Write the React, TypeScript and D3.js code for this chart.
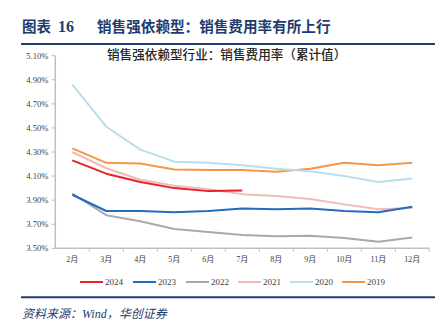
import React from "react";
import * as d3 from "d3";

const months = ["2月", "3月", "4月", "5月", "6月", "7月", "8月", "9月", "10月", "11月", "12月"];
const yTicks = [3.5, 3.7, 3.9, 4.1, 4.3, 4.5, 4.7, 4.9, 5.1];

const s2024 = [4.23, 4.12, 4.05, 4.0, 3.975, 3.98];
const s2023 = [3.945, 3.81, 3.81, 3.8, 3.81, 3.83, 3.825, 3.83, 3.81, 3.8, 3.845];
const s2022 = [3.955, 3.775, 3.725, 3.66, 3.635, 3.61, 3.6, 3.605, 3.585, 3.555, 3.59];
const s2021 = [4.3, 4.165, 4.07, 4.02, 3.99, 3.95, 3.935, 3.91, 3.865, 3.825, 3.835];
const s2020 = [4.86, 4.51, 4.32, 4.22, 4.21, 4.19, 4.16, 4.14, 4.1, 4.05, 4.08];
const s2019 = [4.33, 4.21, 4.205, 4.155, 4.15, 4.15, 4.135, 4.16, 4.21, 4.19, 4.21];

const seriesNames = ["2024", "2023", "2022", "2021", "2020", "2019"];
const seriesValues = [s2024, s2023, s2022, s2021, s2020, s2019];
const seriesColors = ["#E8212B", "#1F6CC0", "#A9A9A9", "#F2B9B9", "#B8DEE9", "#F79646"];

const NAVY = "#1F3C6E";
const AXIS = "#BFBFBF";
const SERIF = "'Liberation Serif', 'Times New Roman', 'Noto Sans CJK SC', serif";
const CJK = "'Liberation Serif', 'Noto Sans CJK SC', serif";

export default function App() {
  const x = d3.scaleBand<string>().domain(months).range([55.3, 429.3]);
  const y = d3.scaleLinear().domain([3.5, 5.1]).range([248.3, 55.7]);
  const line = d3
    .line<number>()
    .x((_, i) => (x(months[i]) as number) + x.bandwidth() / 2)
    .y((d) => y(d));

  const order = [5, 4, 3, 2, 1, 0];
  const legendX = [80, 133, 186, 238, 290, 342];

  return (
    <svg
      width={447}
      height={331}
      style={{ position: "absolute", left: 0, top: 0, background: "#fff" }}
    >
      {/* Header */}
      <text x={22} y={32} fill={NAVY} fontFamily={CJK} fontWeight={700} fontSize={14.5}>
        图表
      </text>
      <text x={58} y={32} fill={NAVY} fontFamily={SERIF} fontWeight={700} fontSize={16}>
        16
      </text>
      <text x={97} y={32} fill={NAVY} fontFamily={CJK} fontWeight={700} fontSize={14.6}>
        销售强依赖型：销售费用率有所上行
      </text>
      <line x1={21} x2={435} y1={44} y2={44} stroke={NAVY} strokeWidth={2} />

      {/* Chart title */}
      <text x={107} y={59} fill="#262626" fontFamily={CJK} fontWeight={500} fontSize={12.6}>
        销售强依赖型行业：销售费用率（累计值）
      </text>

      {/* Y axis */}
      <line x1={55.3} x2={55.3} y1={y(5.1)} y2={y(3.5)} stroke={AXIS} strokeWidth={1.5} />
      {yTicks.map((t) => (
        <g key={t}>
          <line x1={51.5} x2={55.3} y1={y(t)} y2={y(t)} stroke={AXIS} strokeWidth={1} />
          <text
            x={48.5}
            y={y(t)}
            textAnchor="end"
            dominantBaseline="central"
            fontFamily={SERIF}
            fontSize={8.6}
            fill="#404040"
          >
            {t.toFixed(2) + "%"}
          </text>
        </g>
      ))}

      {/* X axis */}
      <line x1={55.3} x2={429.3} y1={y(3.5)} y2={y(3.5)} stroke={AXIS} strokeWidth={1.5} />
      {months.map((m, i) => (
        <g key={m}>
          <line
            x1={(x(m) as number) + x.bandwidth()}
            x2={(x(m) as number) + x.bandwidth()}
            y1={y(3.5)}
            y2={y(3.5) + 3.5}
            stroke={AXIS}
            strokeWidth={1}
          />
          <text
            x={(x(m) as number) + x.bandwidth() / 2}
            y={262}
            textAnchor="middle"
            fontFamily={CJK}
            fontSize={8}
            fill="#404040"
          >
            {m}
          </text>
        </g>
      ))}

      {/* Series */}
      {order.map((k) => (
        <path
          key={seriesNames[k]}
          d={line(seriesValues[k]) || ""}
          fill="none"
          stroke={seriesColors[k]}
          strokeWidth={2}
          strokeLinejoin="round"
        />
      ))}

      {/* Legend */}
      {seriesNames.map((n, i) => (
        <g key={n}>
          <line
            x1={legendX[i]}
            x2={legendX[i] + 23}
            y1={282}
            y2={282}
            stroke={seriesColors[i]}
            strokeWidth={2}
          />
          <text
            x={legendX[i] + 25}
            y={282}
            dominantBaseline="central"
            fontFamily={SERIF}
            fontSize={9}
            fill="#404040"
          >
            {n}
          </text>
        </g>
      ))}

      {/* Footer */}
      <line x1={21} x2={435} y1={297.3} y2={297.3} stroke={NAVY} strokeWidth={2} />
      <text
        x={22}
        y={318}
        fill={NAVY}
        fontFamily={CJK}
        fontStyle="italic"
        fontSize={12}
      >
        资料来源：Wind，华创证券
      </text>
    </svg>
  );
}
